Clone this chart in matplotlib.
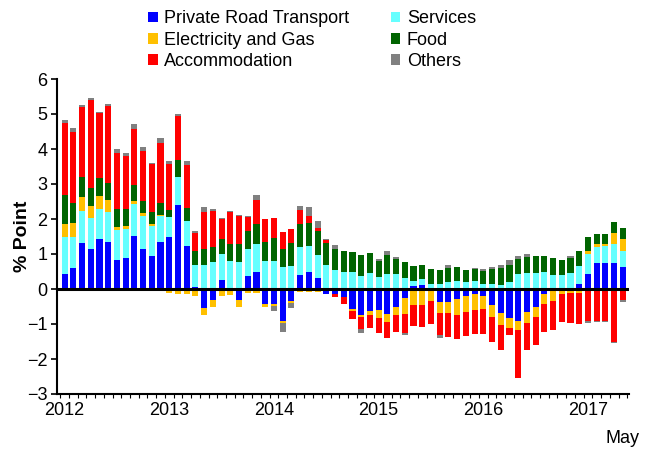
import numpy as np
import matplotlib
matplotlib.use("Agg")
import matplotlib.pyplot as plt
from matplotlib.patches import Patch

plt.rcParams['font.family'] = ['Liberation Sans', 'DejaVu Sans']

year_labels = ["2012", "2013", "2014", "2015", "2016", "2017"]
n_months = 65

series_names = ["Private Road Transport", "Services", "Electricity and Gas",
                "Food", "Accommodation", "Others"]
colors = ["#0000FF", "#66FFFF", "#FFC000", "#006400", "#FF0000", "#808080"]

private_road = [0.43, 0.59, 1.31, 1.14, 1.42, 1.34, 0.82, 0.90, 1.52, 1.15, 0.94, 1.33,
                1.49, 2.39, 1.22, 0.06, -0.54, -0.30, 0.27, 0.00, -0.30, 0.38, 0.50, -0.43,
                -0.44, -0.91, -0.35, 0.39, 0.50, 0.32, -0.13, -0.13, -0.23, -0.56, -0.75, -0.64,
                -0.60, -0.70, -0.50, -0.26, 0.10, 0.11, 0.00, -0.37, -0.37, -0.28, -0.20, -0.14,
                -0.21, -0.45, -0.69, -0.84, -0.90, -0.67, -0.52, -0.13, 0.00, 0.00, 0.00, 0.15,
                0.42, 0.73, 0.73, 0.73, 0.64]
services = [1.07, 0.91, 0.93, 0.88, 0.88, 0.86, 0.86, 0.82, 0.90, 0.95, 0.87, 0.76,
            0.57, 0.81, 0.72, 0.64, 0.70, 0.77, 0.74, 0.81, 0.78, 0.76, 0.80, 0.80,
            0.80, 0.62, 0.65, 0.81, 0.72, 0.65, 0.70, 0.55, 0.49, 0.49, 0.37, 0.46,
            0.34, 0.43, 0.43, 0.31, 0.14, 0.17, 0.15, 0.13, 0.21, 0.22, 0.20, 0.24,
            0.14, 0.13, 0.11, 0.19, 0.42, 0.46, 0.46, 0.49, 0.41, 0.39, 0.46, 0.50,
            0.59, 0.47, 0.49, 0.55, 0.44]
elec_gas = [0.36, 0.40, 0.39, 0.35, 0.35, 0.34, 0.09, 0.08, 0.09, 0.06, 0.05, 0.03,
            -0.11, -0.13, -0.13, -0.21, -0.21, -0.21, -0.20, -0.18, -0.20, -0.12, -0.10, -0.07,
            -0.05, -0.05, -0.05, -0.09, -0.09, -0.09, 0.00, 0.00, 0.00, -0.06, -0.05, -0.10,
            -0.22, -0.23, -0.23, -0.44, -0.47, -0.47, -0.35, -0.31, -0.32, -0.45, -0.46, -0.47,
            -0.35, -0.34, -0.33, -0.28, -0.28, -0.29, -0.28, -0.29, -0.33, -0.13, -0.11, -0.11,
            0.07, 0.08, 0.08, 0.33, 0.34]
food = [0.84, 0.57, 0.58, 0.52, 0.52, 0.50, 0.51, 0.48, 0.46, 0.36, 0.33, 0.33,
        0.21, 0.48, 0.37, 0.38, 0.43, 0.43, 0.43, 0.49, 0.50, 0.52, 0.55, 0.55,
        0.67, 0.52, 0.67, 0.67, 0.68, 0.68, 0.62, 0.60, 0.61, 0.57, 0.59, 0.56,
        0.47, 0.54, 0.44, 0.46, 0.41, 0.42, 0.41, 0.40, 0.40, 0.42, 0.35, 0.34,
        0.37, 0.43, 0.49, 0.49, 0.45, 0.45, 0.47, 0.44, 0.49, 0.43, 0.44, 0.45,
        0.42, 0.30, 0.28, 0.30, 0.32]
accommodation = [2.05, 2.03, 1.99, 2.51, 1.86, 2.20, 1.60, 1.53, 1.59, 1.43, 1.38, 1.73,
                 1.29, 1.25, 1.23, 0.52, 1.08, 1.02, 0.56, 0.89, 0.81, 0.40, 0.70, 0.64,
                 0.56, 0.48, 0.40, 0.38, 0.20, 0.10, 0.07, -0.10, -0.21, -0.23, -0.35, -0.38,
                 -0.45, -0.46, -0.49, -0.57, -0.59, -0.62, -0.64, -0.64, -0.68, -0.69, -0.68, -0.67,
                 -0.72, -0.71, -0.73, -0.20, -1.35, -0.79, -0.81, -0.82, -0.83, -0.81, -0.86, -0.88,
                 -0.90, -0.90, -0.90, -1.50, -0.32]
others = [0.07, 0.10, 0.06, 0.06, 0.03, 0.06, 0.13, 0.08, 0.14, 0.11, 0.04, 0.14,
          0.11, 0.08, 0.13, 0.05, 0.12, 0.07, 0.04, 0.04, 0.03, 0.03, 0.13, 0.00,
          -0.14, -0.28, -0.14, 0.11, 0.24, 0.19, 0.05, 0.10, 0.00, 0.00, -0.10, 0.00,
          0.04, 0.13, 0.05, -0.05, 0.00, 0.00, 0.00, -0.08, 0.09, 0.00, 0.00, 0.03,
          0.07, 0.07, 0.08, 0.14, 0.06, 0.08, 0.00, 0.00, 0.00, 0.00, 0.04, 0.00,
          -0.07, -0.04, -0.05, -0.05, -0.04]

all_series = [private_road, services, elec_gas, food, accommodation, others]

fig = plt.figure(figsize=(6.53, 4.5), dpi=100)
ax = fig.add_axes([57/653, 1-394/450, (629-57)/653, (394-79)/450])

x = np.arange(n_months)
pos_base = np.zeros(n_months)
neg_base = np.zeros(n_months)
handles = []
for vals, name, col in zip(all_series, series_names, colors):
    v = np.array(vals, dtype=float)
    bottoms = np.where(v >= 0, pos_base, neg_base)
    ax.bar(x, v, bottom=bottoms, width=0.7, color=col, linewidth=0)
    pos_base = pos_base + np.where(v > 0, v, 0)
    neg_base = neg_base + np.where(v < 0, v, 0)
    handles.append(Patch(facecolor=col, label=name))

ax.axhline(0, color='black', lw=2.2, zorder=5)
ax.set_ylim(-3, 6)
ax.set_xlim(-0.87, 64.7)
ax.set_yticks(np.arange(-3, 7, 1))
ax.tick_params(axis='y', direction='out', length=4, width=1.2, labelsize=13, pad=3)
ax.set_xticks(np.arange(0, 61, 12))
ax.set_xticklabels(year_labels)
ax.tick_params(axis='x', which='major', length=0, labelsize=13, pad=6)
ax.set_xticks(np.arange(n_months + 1) - 0.5, minor=True)
ax.tick_params(axis='x', which='minor', direction='out', length=3, width=0.8)
ax.text(64, -0.115, "May", transform=ax.get_xaxis_transform(), ha='center', va='top', fontsize=13)

for s in ['top', 'right']:
    ax.spines[s].set_visible(False)
for s in ['left', 'bottom']:
    ax.spines[s].set_linewidth(1.5)

ax.set_ylabel("% Point", fontsize=14, fontweight='bold', labelpad=-3)

order = [0, 2, 4, 1, 3, 5]
leg = fig.legend([handles[i] for i in order], [series_names[i] for i in order],
                 ncol=2, loc='upper left', bbox_to_anchor=(135/653, 1.005),
                 frameon=False, fontsize=13, handlelength=0.55, handleheight=0.55,
                 handletextpad=0.35, columnspacing=2.3, labelspacing=0.24, borderaxespad=0.3)

fig.savefig("out.png", dpi=100)
